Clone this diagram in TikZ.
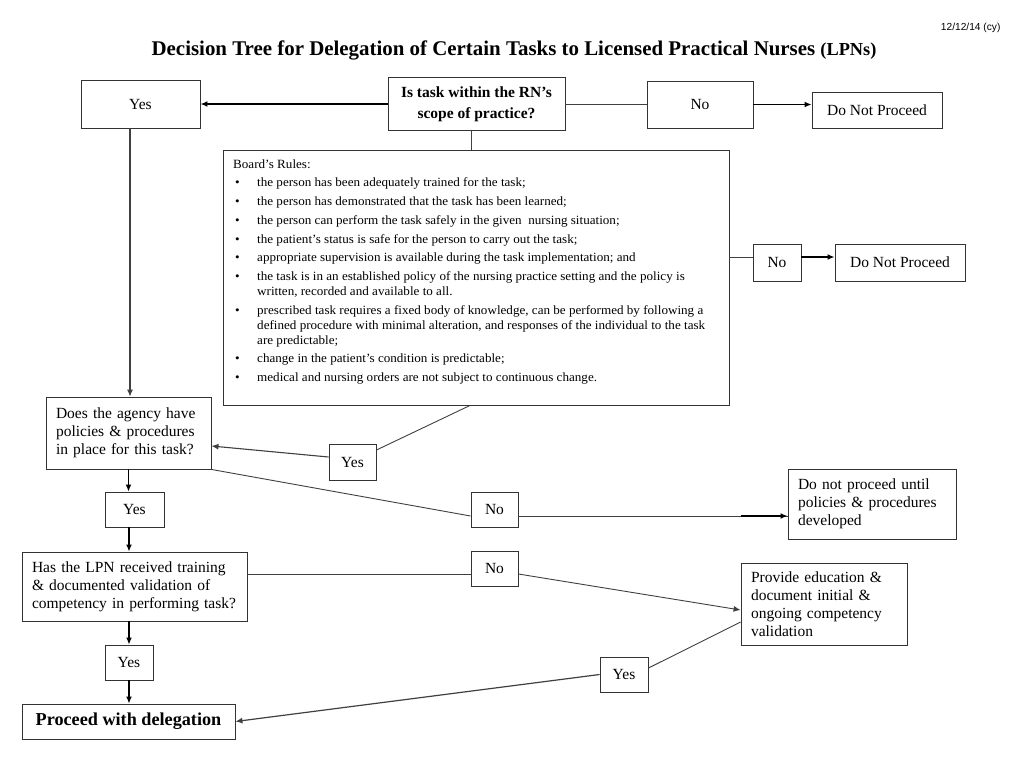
\documentclass[tikz,border=0pt]{standalone}
\usepackage{fontspec}
\setmainfont{Liberation Serif}
\setsansfont{Liberation Sans}
\newfontfamily\boardfont[FakeStretch=1.04]{Liberation Serif}
\usetikzlibrary{arrows.meta,calc}
\begin{document}
\begin{tikzpicture}[x=1pt,y=-1pt,
  bx/.style={draw=black!80, line width=0.9pt, inner sep=0pt, align=center,
    font=\fontsize{15.5}{18}\selectfont},
  lbox/.style={bx, align=left, inner xsep=10pt, text width=#1},
  ln/.style={draw=black!75, line width=0.9pt},
  arr/.style={ln, -{Latex[length=7pt,width=6pt]}},
  tarr/.style={arr, draw=black, line width=1.8pt},
]
\fill[white] (0,0) rectangle (1024,764);
\useasboundingbox (0,0) rectangle (1024,764);

% title and date
\node[font=\sffamily\fontsize{10.2}{12}\selectfont, anchor=east] (date) at (1004,28) {12/12/14 (cy)};
\node (title) at (514,50) {\fontsize{20.9}{24}\selectfont\bfseries Decision Tree for Delegation of Certain Tasks to Licensed Practical Nurses {\fontsize{18.3}{22}\selectfont (LPNs)}};

% boxes
\node[bx, minimum width=119pt, minimum height=48pt] (yes1) at (140.5,104) {Yes};
\node[bx, minimum width=177pt, minimum height=53pt, font=\fontsize{15.5}{21}\selectfont\bfseries] (q1) at (476.5,104) {Is task within the RN’s\\scope of practice?};
\node[bx, minimum width=106pt, minimum height=47pt] (no1) at (700,104.5) {No};
\node[bx, minimum width=130pt, minimum height=36pt] (dnp1) at (877,110) {Do Not Proceed};
\node[bx, minimum width=506pt, minimum height=255pt] (board) at (476,277.5) {};
\node[anchor=north west, inner sep=0pt, font=\boardfont\fontsize{12.6}{15}\selectfont] (boardtxt) at (233,157.5) {%
\begin{tabular}{@{}p{24pt}@{}p{470pt}@{}}
\multicolumn{2}{@{}l@{}}{Board’s Rules:}\\[3.7pt]
\hspace{2pt}\textbullet & the person has been adequately trained for the task;\\[3.7pt]
\hspace{2pt}\textbullet & the person has demonstrated that the task has been learned;\\[3.7pt]
\hspace{2pt}\textbullet & the person can perform the task safely in the given\ \ nursing situation;\\[3.7pt]
\hspace{2pt}\textbullet & the patient’s status is safe for the person to carry out the task;\\[3.7pt]
\hspace{2pt}\textbullet & appropriate supervision is available during the task implementation; and\\[3.7pt]
\hspace{2pt}\textbullet & the task is in an established policy of the nursing practice setting and the policy is\newline written, recorded and available to all.\\[3.7pt]
\hspace{2pt}\textbullet & prescribed task requires a fixed body of knowledge, can be performed by following a\newline defined procedure with minimal alteration, and responses of the individual to the task\newline are predictable;\\[3.7pt]
\hspace{2pt}\textbullet & change in the patient’s condition is predictable;\\[3.7pt]
\hspace{2pt}\textbullet & medical and nursing orders are not subject to continuous change.
\end{tabular}};
\node[bx, minimum width=48pt, minimum height=37pt] (no2) at (777,262.5) {No};
\node[bx, minimum width=130pt, minimum height=37pt] (dnp2) at (900,262.5) {Do Not Proceed};
\node[lbox=145pt, minimum height=72pt] (agency) at (128.5,433) {Does the agency have\\policies \& procedures\\in place for this task?};
\node[bx, minimum width=47pt, minimum height=36pt] (yes2) at (352.5,462) {Yes};
\node[bx, minimum width=47pt, minimum height=35pt] (no3) at (494.5,509.5) {No};
\node[lbox=148pt, minimum height=70pt] (dnpu) at (872,504) {Do not proceed until\\policies \& procedures\\developed};
\node[bx, minimum width=59pt, minimum height=35pt] (yes3) at (134.5,509.5) {Yes};
\node[lbox=205pt, minimum height=69pt] (lpn) at (134.5,586.5) {\mbox{Has the LPN received training}\\\mbox{\& documented validation of}\\\mbox{competency in performing task?}};
\node[bx, minimum width=47pt, minimum height=35pt] (no4) at (494.5,568.5) {No};
\node[lbox=146pt, minimum height=82pt] (prov) at (824,604) {Provide education \&\\document initial \&\\ongoing competency\\validation};
\node[bx, minimum width=48pt, minimum height=35pt] (yes5) at (624,674.5) {Yes};
\node[bx, minimum width=48pt, minimum height=35pt] (yes4) at (129,662.5) {Yes};
\node[bx, minimum width=213pt, minimum height=35pt, font=\fontsize{18.2}{21}\selectfont\bfseries] (proc) at (128.5,721.5) {Proceed with delegation};

% connectors
\draw[tarr] (q1.west) -- (q1.west -| yes1.east);
\draw[ln] (no1.west -| q1.east) -- (no1.west);
\draw[tarr] (no1.east) -- (no1.east -| dnp1.west);
\draw[ln] ([xshift=-5.5pt]q1.south) -- ([xshift=-5.5pt]q1.south |- board.north);
\draw[ln] ([yshift=5.5pt]no2.west -| board.east) -- ([yshift=5.5pt]no2.west);
\draw[tarr] ([yshift=5.5pt]no2.east) -- ([yshift=5.5pt]no2.east -| dnp2.west);
\draw[arr, line width=1.1pt] ([xshift=-10.5pt]yes1.south) -- ([xshift=-10.5pt]yes1.south |- agency.north);
\draw[ln] ([xshift=-6pt]board.south) -- ([yshift=12pt]yes2.east);
\draw[arr, line width=1.1pt] ([yshift=5pt]yes2.west) -- ([yshift=-13pt]agency.east);
\draw[ln] (agency.south east) -- ([yshift=-6.5pt]no3.west);
\draw[ln] ([yshift=-6.5pt]no3.east) -- ([yshift=-6.5pt]no3.east -| dnpu.west);
\draw[tarr, line width=1.6pt] ($([yshift=-6.5pt]no3.east -| dnpu.west)+(-47,0)$) -- ([yshift=-6.5pt]no3.east -| dnpu.west);
\draw[tarr] (agency.south) -- (agency.south |- yes3.north);
\draw[tarr] ([xshift=-5.5pt]yes3.south) -- ([xshift=-5.5pt]yes3.south |- lpn.north);
\draw[ln] ([yshift=-5.5pt]no4.west -| lpn.east) -- ([yshift=-5.5pt]no4.west);
\draw[arr] ([yshift=-5.5pt]no4.east) -- ([yshift=-6pt]prov.west);
\draw[ln] ([yshift=-18pt]prov.west) -- ([yshift=6.5pt]yes5.east);
\draw[arr, line width=1.2pt] (yes5.west) -- (proc.east);
\draw[tarr] (yes4.north |- lpn.south) -- (yes4.north);
\draw[tarr] (yes4.south) -- (yes4.south |- proc.north);
\end{tikzpicture}
\end{document}
